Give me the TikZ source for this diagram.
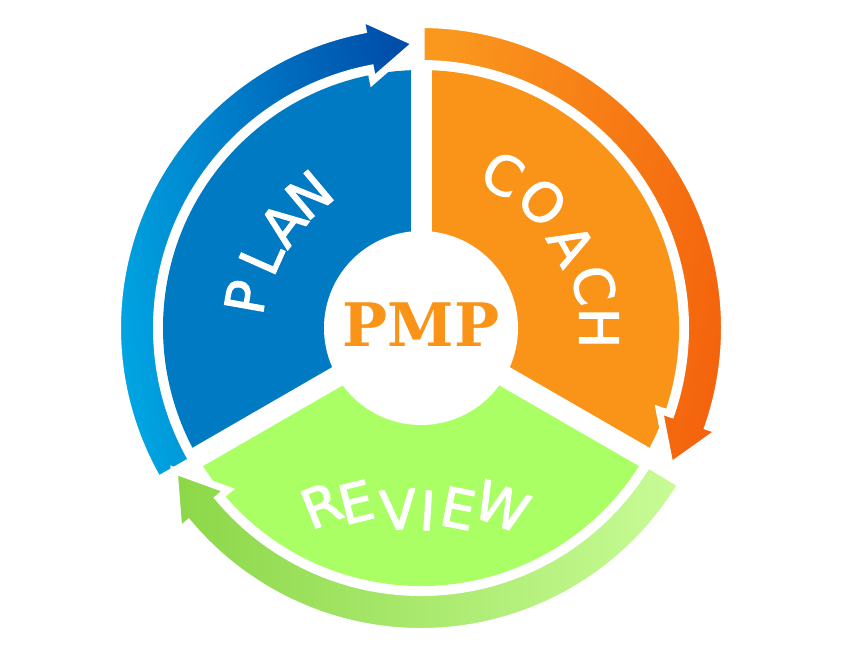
\documentclass[tikz,border=0pt]{standalone}
\usepackage{fontspec}
\newfontfamily\lblfont{DejaVu Sans}[FakeBold=2]
\newfontfamily\pmpfont{DejaVu Serif}
\definecolor{secblue}{RGB}{0,122,194}
\definecolor{secorange}{RGB}{250,148,25}
\definecolor{secgreen}{RGB}{170,255,100}
\definecolor{blueA}{RGB}{0,168,228}
\definecolor{blueB}{RGB}{0,78,170}
\definecolor{orA}{RGB}{250,152,30}
\definecolor{orB}{RGB}{244,98,12}
\definecolor{grA}{RGB}{140,215,72}
\definecolor{grB}{RGB}{200,252,150}
\newcommand{\cyclearrow}[2]{%
  \path[draw=white,line width=7pt,line join=miter,#2]
    (#1:303.5pt) arc[start angle=#1,end angle=#1-109,radius=303.5pt]
    -- (#1-109:316pt) -- (#1-119:285pt) -- (#1-109:252pt)
    -- (#1-109:264.5pt) arc[start angle=#1-109,end angle=#1,radius=264.5pt] -- cycle;}
\tikzset{lbl/.style={text=white,font=\lblfont\fontsize{54}{54}\selectfont,inner sep=0pt}}
\begin{document}
\begin{tikzpicture}[x=1pt,y=1pt]
\useasboundingbox (0,0) rectangle (867,-657);
\begin{scope}[shift={(421,-328)}]
\fill[secblue] (0,0) -- (90:258pt) arc[start angle=90,end angle=210,radius=258pt] -- cycle;
\fill[secorange] (0,0) -- (-30:258pt) arc[start angle=-30,end angle=90,radius=258pt] -- cycle;
\fill[secgreen] (0,0) -- (210:258pt) arc[start angle=210,end angle=330,radius=258pt] -- cycle;
\foreach \a in {90,210,330} \draw[white,line width=21pt] (0,0) -- (\a:263pt);
\fill[white] (0,0) circle[radius=97pt];
\cyclearrow{210}{left color=blueA,right color=blueB,shading angle=100}
\cyclearrow{90}{left color=orA,right color=orB,shading angle=80}
\cyclearrow{-31}{left color=grA,right color=grB}
\node (pmp) at (0,3) {\pmpfont\bfseries\fontsize{60}{60}\selectfont\textcolor{secorange}{PMP}};
% PLAN
\node[lbl,rotate=80] (p1) at (170:178pt) {P};
\node[lbl,rotate=66] (p2) at (156:175pt) {L};
\node[lbl,rotate=53] (p3) at (143:173pt) {A};
\node[lbl,rotate=40] (p4) at (130:174pt) {N};
% COACH
\node[lbl,rotate=-28] (c1) at (62:174pt) {C};
\node[lbl,rotate=-44] (c2) at (46:175pt) {O};
\node[lbl,rotate=-61] (c3) at (29:172pt) {A};
\node[lbl,rotate=-76] (c4) at (14:178pt) {C};
\node[lbl,rotate=-90] (c5) at (0:178pt) {H};
\end{scope}
\begin{scope}[shift={(414,-735)}]
\node[lbl,rotate=22] (r1) at (112:248pt) {R};
\node[lbl,rotate=14] (r2) at (104:240pt) {E};
\node[lbl,rotate=4] (r3) at (94:226pt) {V};
\node[lbl,rotate=-3.5] (r4) at (86.5:225pt) {I};
\node[lbl,rotate=-11] (r5) at (79:231pt) {E};
\node[lbl,rotate=-21] (r6) at (69:245pt) {W};
\end{scope}
\end{tikzpicture}
\end{document}
